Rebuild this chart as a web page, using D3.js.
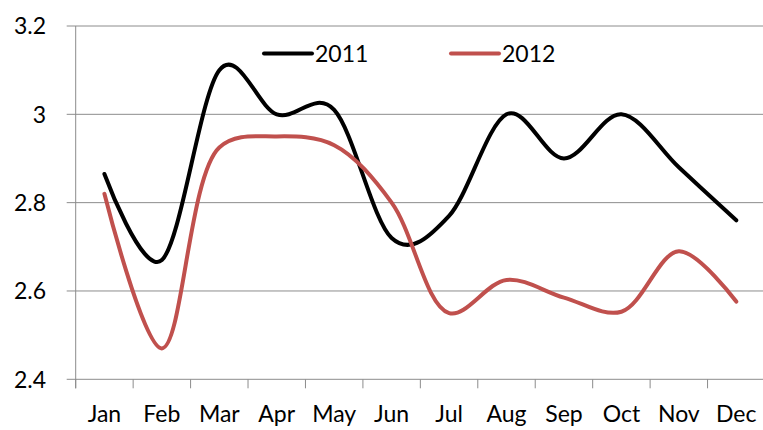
<!doctype html>
<html>
<head>
<meta charset="utf-8">
<style>
  body { margin: 0; background: #fff; }
  svg text { font-family: Lato, "Open Sans", sans-serif; fill: #000; }
</style>
</head>
<body>
<svg width="763" height="430"></svg>
<script src="https://d3js.org/d3.v7.min.js"></script>
<script>
var months = ["Jan", "Feb", "Mar", "Apr", "May", "Jun", "Jul", "Aug", "Sep", "Oct", "Nov", "Dec"];
var values2011 = [2.865, 2.67, 3.10, 3.0, 3.01, 2.72, 2.77, 3.0, 2.90, 3.0, 2.88, 2.76];
var values2012 = [2.82, 2.47, 2.925, 2.95, 2.93, 2.80, 2.55, 2.625, 2.585, 2.553, 2.69, 2.576];
var yTicks = [2.4, 2.6, 2.8, 3, 3.2];

var svg = d3.select("svg"),
    plotLeft = 75.7, plotRight = 765, plotTop = 26, plotBottom = 379.3;

var x = d3.scaleBand().domain(months).range([plotLeft, plotRight]);
var y = d3.scaleLinear().domain([2.4, 3.2]).range([plotBottom, plotTop]);

// gridlines
svg.append("g")
  .selectAll("line")
  .data(yTicks)
  .enter().append("line")
    .attr("x1", plotLeft - 9)
    .attr("x2", plotRight)
    .attr("y1", function(d) { return y(d); })
    .attr("y2", function(d) { return y(d); })
    .attr("stroke", "#8c8c8c")
    .attr("stroke-width", 1);

// y axis line
svg.append("line")
  .attr("x1", plotLeft).attr("x2", plotLeft)
  .attr("y1", plotTop).attr("y2", plotBottom + 9)
  .attr("stroke", "#8c8c8c");

// x tick marks
svg.append("g")
  .selectAll("line")
  .data(months)
  .enter().append("line")
    .attr("x1", function(d) { return x(d); })
    .attr("x2", function(d) { return x(d); })
    .attr("y1", plotBottom)
    .attr("y2", plotBottom + 9)
    .attr("stroke", "#8c8c8c");

// y labels
svg.append("g")
  .selectAll("text")
  .data(yTicks)
  .enter().append("text")
    .attr("x", 46)
    .attr("y", function(d) { return y(d); })
    .attr("dy", "0.36em")
    .attr("text-anchor", "end")
    .style("font-size", "23px")
    .text(function(d) { return d; });

// x labels
svg.append("g")
  .selectAll("text")
  .data(months)
  .enter().append("text")
    .attr("x", function(d) { return x(d) + x.bandwidth() / 2; })
    .attr("y", 422)
    .attr("text-anchor", "middle")
    .style("font-size", "23px")
    .text(function(d) { return d; });

// smoothed lines (excel-like)
function smoothLine(curve) {
  return d3.line()
    .x(function(d, i) { return x(months[i]) + x.bandwidth() / 2; })
    .y(function(d) { return y(d); })
    .curve(curve);
}

svg.append("path")
  .datum(values2011)
  .attr("fill", "none")
  .attr("stroke", "#000")
  .attr("stroke-width", 4)
  .attr("stroke-linecap", "round")
  .attr("d", smoothLine(d3.curveCardinal.tension(0)));

svg.append("path")
  .datum(values2012)
  .attr("fill", "none")
  .attr("stroke", "#c0504d")
  .attr("stroke-width", 4)
  .attr("stroke-linecap", "round")
  .attr("d", smoothLine(d3.curveCatmullRom.alpha(0.5)));

// legend
var legend = [
  {name: "2011", color: "#000", x: 264},
  {name: "2012", color: "#c0504d", x: 451}
];
legend.forEach(function(l) {
  svg.append("line")
    .attr("x1", l.x).attr("x2", l.x + 48)
    .attr("y1", 53.5).attr("y2", 53.5)
    .attr("stroke", l.color)
    .attr("stroke-width", 4)
    .attr("stroke-linecap", "round");
  svg.append("text")
    .attr("x", l.x + 51)
    .attr("y", 53.5)
    .attr("dy", "0.36em")
    .style("font-size", "23px")
    .text(l.name);
});
</script>
</body>
</html>
